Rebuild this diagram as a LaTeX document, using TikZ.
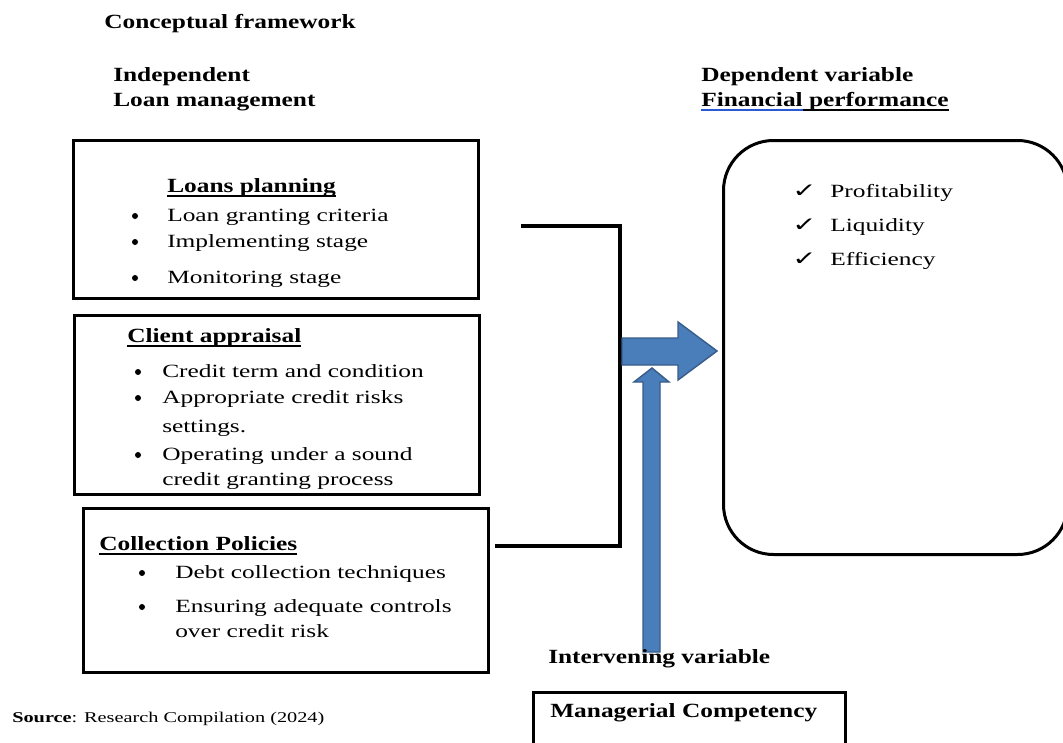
\documentclass[tikz,border=0pt]{standalone}
\usepackage{fontspec}
\setmainfont{Liberation Serif}[FakeStretch=1.36]
\newfontfamily\hdfont{Liberation Serif}[FakeStretch=1.26]
\newfontfamily\chkfont{DejaVu Sans}[FakeStretch=1.45]
\definecolor{arrowfill}{RGB}{74,126,187}
\definecolor{arrowdraw}{RGB}{56,93,138}
\definecolor{ulblue}{RGB}{40,90,215}
\newcommand\ulc[2]{\setbox0\hbox{#2}\rlap{\textcolor{#1}{\rule[-3.4pt]{\wd0}{0.9pt}}}\box0}
\begin{document}
\begin{tikzpicture}[x=0.75pt,y=-0.75pt,
  txt/.style={anchor=base west, inner sep=0pt, font=\fontsize{14}{18}\selectfont},
  hd/.style={anchor=base west, inner sep=0pt, font=\hdfont\fontsize{15.1}{18}\selectfont\bfseries},
  box/.style={draw, line width=2.25pt, anchor=north west, inner sep=0pt},
  dot/.style={circle, fill, inner sep=0pt, minimum size=4.5pt},
  chk/.style={anchor=base west, inner sep=0pt, font=\chkfont\fontsize{15}{16}\selectfont},
  barrow/.style={fill=arrowfill, draw=arrowdraw, line width=1.1pt, line join=miter},
  link/.style={line width=2.4pt, line join=miter}]
\useasboundingbox (0,0) rectangle (1063,742);
\fill[white] (0,0) rectangle (1063,742);
\clip (0,0) rectangle (1063,742);

% headings
\node[hd] (title) at (104,29) {Conceptual framework};
\node[hd] (indep) at (113,81) {Independent};
\node[hd] (loanm) at (113,107) {Loan management};
\node[hd] (dep) at (701,81) {Dependent variable};
\node[hd] (finp) at (701,106) {\ulc{ulblue}{Financial}\ulc{black}{ performance}};

% box 1
\node[box, minimum width=303.75pt, minimum height=118.5pt] (b1) at (72,139) {};
\node[hd] (b1t) at (167,192) {\ulc{black}{Loans planning}};
\node[dot] (d11) at (135,216) {};
\node[txt] (b11) at (167,221) {Loan granting criteria};
\node[dot] (d12) at (135,242) {};
\node[txt] (b12) at (167,247) {Implementing stage};
\node[dot] (d13) at (135,278) {};
\node[txt] (b13) at (167,283) {Monitoring stage};

% box 2
\node[box, minimum width=303.75pt, minimum height=134.25pt] (b2) at (73,314) {};
\node[hd] (b2t) at (127,342) {\ulc{black}{Client appraisal}};
\node[dot] (d21) at (138,372) {};
\node[txt] (b21) at (162,377) {Credit term and condition};
\node[dot] (d22) at (138,398) {};
\node[txt] (b22) at (162,403) {Appropriate credit risks};
\node[txt] (b22b) at (162,432) {settings.};
\node[dot] (d23) at (138,455) {};
\node[txt] (b23) at (162,460) {Operating under a sound};
\node[txt] (b23b) at (162,485) {credit granting process};

% box 3
\node[box, minimum width=303.75pt, minimum height=123pt] (b3) at (82,507) {};
\node[hd] (b3t) at (99,550) {\ulc{black}{Collection Policies}};
\node[dot] (d31) at (142,573) {};
\node[txt] (b31) at (175,578) {Debt collection techniques};
\node[dot] (d32) at (142,607) {};
\node[txt] (b32) at (175,612) {Ensuring adequate controls};
\node[txt] (b32b) at (175,637) {over credit risk};

% bracket
\coordinate (bt) at (521,226);
\coordinate (bc1) at (620,226);
\coordinate (bc2) at (620,546);
\coordinate (bb) at (495,546);
\draw[link] (bt) -- (bc1) -- (bc2) -- (bb);

% dependent box
\node[box, rounded corners=37.5pt, minimum width=258pt, minimum height=310.5pt] (dv) at (722,139) {};
\node[chk] (c1) at (792,197) {✓};
\node[txt] (p1) at (830,197) {Profitability};
\node[chk] (c2) at (792,231) {✓};
\node[txt] (p2) at (830,231) {Liquidity};
\node[chk] (c3) at (792,265) {✓};
\node[txt] (p3) at (830,265) {Efficiency};

% arrows
\draw[barrow] (622,338) -- (678,338) -- (678,322) -- (717,351) -- (678,380) -- (678,365) -- (622,365) -- cycle;
\draw[barrow] (643,652) -- (643,382) -- (634,382) -- (652,368) -- (669,382) -- (660,382) -- (660,652) -- cycle;

% intervening
\node[hd] (iv) at (548,663) {Intervening variable};
\node[box, minimum width=234pt, minimum height=60pt] (mc) at (532,691) {};
\node[hd] (mct) at (550,717) {Managerial Competency};

% source
\node[txt, font=\fontsize{11.2}{14}\selectfont] (src) at (12,722) {\textbf{Source}: Research Compilation (2024)};
\end{tikzpicture}
\end{document}
